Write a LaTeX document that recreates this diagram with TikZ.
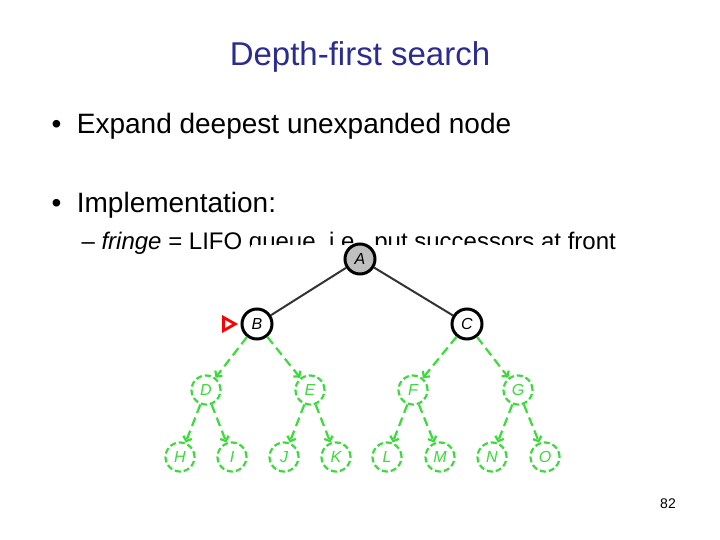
\documentclass[tikz,border=0pt]{standalone}
\usepackage{fontspec}
\setmainfont{Liberation Sans}
\usetikzlibrary{arrows.meta}
\definecolor{ttl}{HTML}{2B2B90}
\definecolor{grn}{HTML}{3ADB3A}
\begin{document}
\begin{tikzpicture}[x=1pt,y=-1pt,
 big/.style={font=\fontsize{28}{32}\selectfont},
 sb/.style={circle,draw=black,line width=3pt,minimum size=30pt,inner sep=0pt,font=\itshape\fontsize{16}{16}\selectfont},
 gn/.style={circle,draw=grn,dash pattern=on 6pt off 3pt,line width=2.2pt,minimum size=29pt,inner sep=0pt,text=grn,font=\itshape\fontsize{16}{16}\selectfont},
 ge/.style={draw=grn,dash pattern=on 9pt off 5pt,line width=2.2pt,-{Straight Barb[length=4pt,width=9pt]}},
 be/.style={draw=black!80,line width=2pt}]
\useasboundingbox (0,0) rectangle (720,540);
\node[text=ttl,font=\fontsize{33}{38}\selectfont] (t) at (360,57) {Depth-first search};
\node[big,anchor=base west] (b1) at (48,134) {\textbullet\ \ Expand deepest unexpanded node};
\node[big,anchor=base west] (b2) at (48,213) {\textbullet\ \ Implementation:};
\node[font=\fontsize{24}{28}\selectfont,anchor=base west] (b3) at (78,249) {–\ \textit{fringe} = LIFO queue, i.e., put successors at front};
\fill[white] (251,245) rectangle (564,480);
\node[sb,fill=black!25] (A) at (360,259) {A};
\node[sb] (B) at (257,324) {B};
\node[sb] (C) at (467,324) {C};
\foreach \n/\x/\y in {D/206/390,E/310/390,F/413/390,G/518/390,H/180/457,I/232/457,J/284/457,K/336/457,L/387/457,M/440/457,N/492/457,O/545/457}
 \node[gn] (\n) at (\x,\y) {\n};
\draw[be] (A) -- (B); \draw[be] (A) -- (C);
\foreach \p/\c in {B/D,B/E,C/F,C/G,D/H,D/I,E/J,E/K,F/L,F/M,G/N,G/O}
 \draw[ge] (\p) -- (\c);
\fill[red] (222,315) -- (238,324) -- (222,333) -- cycle;
\fill[white] (225,320) -- (232,324) -- (225,328) -- cycle;
\node[font=\fontsize{14}{16}\selectfont] (pg) at (668,504) {82};
\end{tikzpicture}
\end{document}
